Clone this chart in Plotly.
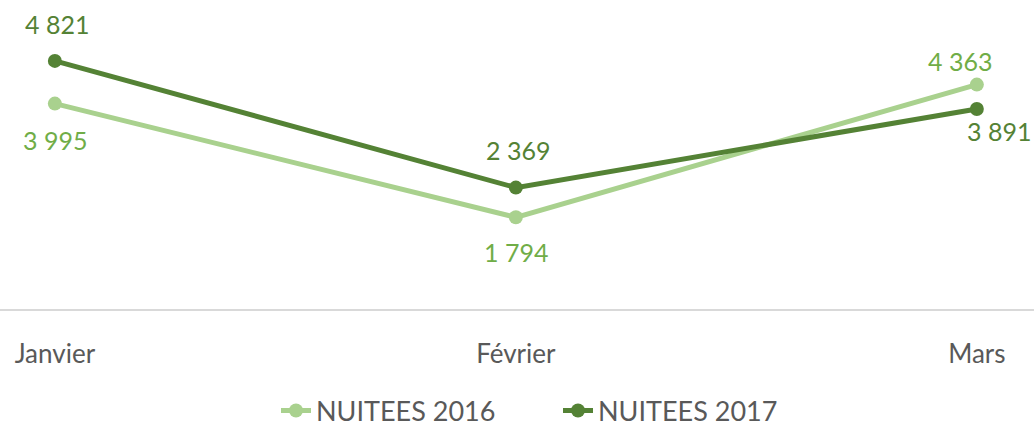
import plotly.graph_objects as go

months = ["Janvier", "Février", "Mars"]
nuitees_2016 = [3995, 1794, 4363]
nuitees_2017 = [4821, 2369, 3891]
series_names = ["NUITEES 2016", "NUITEES 2017"]

line_colors = ["#A9D18E", "#548235"]
label_colors = ["#70AD47", "#548235"]
# label offsets (px) per point: (xshift, yshift)
offsets_2016 = [(0, -36), (0, -35), (-17, 24)]
offsets_2017 = [(2, 37), (2, 38), (22, -22)]


def fmt(v):
    return f"{v:,}".replace(",", " ")


FONT = "Lato, 'Open Sans', sans-serif"
fig = go.Figure()
for name, vals, lc in zip(series_names, [nuitees_2016, nuitees_2017], line_colors):
    fig.add_trace(go.Scatter(
        x=months, y=vals, name=name, mode="lines+markers",
        line=dict(color=lc, width=5),
        marker=dict(color=lc, size=14),
        hoverinfo="skip",
    ))

annotations = []
for vals, offs, tc in [(nuitees_2016, offsets_2016, label_colors[0]),
                       (nuitees_2017, offsets_2017, label_colors[1])]:
    for m, v, (dx, dy) in zip(months, vals, offs):
        annotations.append(dict(
            x=m, y=v, xref="x", yref="y", text=fmt(v), showarrow=False,
            xshift=dx, yshift=dy, xanchor="center", yanchor="middle",
            font=dict(family=FONT, size=25, color=tc),
        ))

fig.update_layout(
    width=1034, height=426,
    margin=dict(l=0, r=0, t=0, b=116, autoexpand=False),
    paper_bgcolor="white", plot_bgcolor="white",
    showlegend=True,
    legend=dict(orientation="h", x=276 / 1034, xanchor="left",
                yref="container", y=1 - 411 / 426, yanchor="middle",
                font=dict(family=FONT, size=27, color="#595959"),
                entrywidth=237, entrywidthmode="pixels"),
    annotations=annotations,
    xaxis=dict(type="category", range=[-0.119, 2.124], showgrid=False,
               showline=False, zeroline=False, ticks="",
               tickfont=dict(family=FONT, size=26, color="#595959"),
               ticklabelstandoff=26, fixedrange=True, automargin=False),
    yaxis=dict(range=[0, 6000], showgrid=False, showticklabels=False,
               zeroline=True, zerolinecolor="#D9D9D9", zerolinewidth=2,
               showline=False, ticks="", fixedrange=True),
)

fig.write_html("out.html", config={"displayModeBar": False})

with open("out.html", "r", encoding="utf-8") as f:
    html = f.read()
html = html.replace("<head>", "<head><style>html,body{margin:0;padding:0;overflow:hidden}</style>", 1)
with open("out.html", "w", encoding="utf-8") as f:
    f.write(html)
